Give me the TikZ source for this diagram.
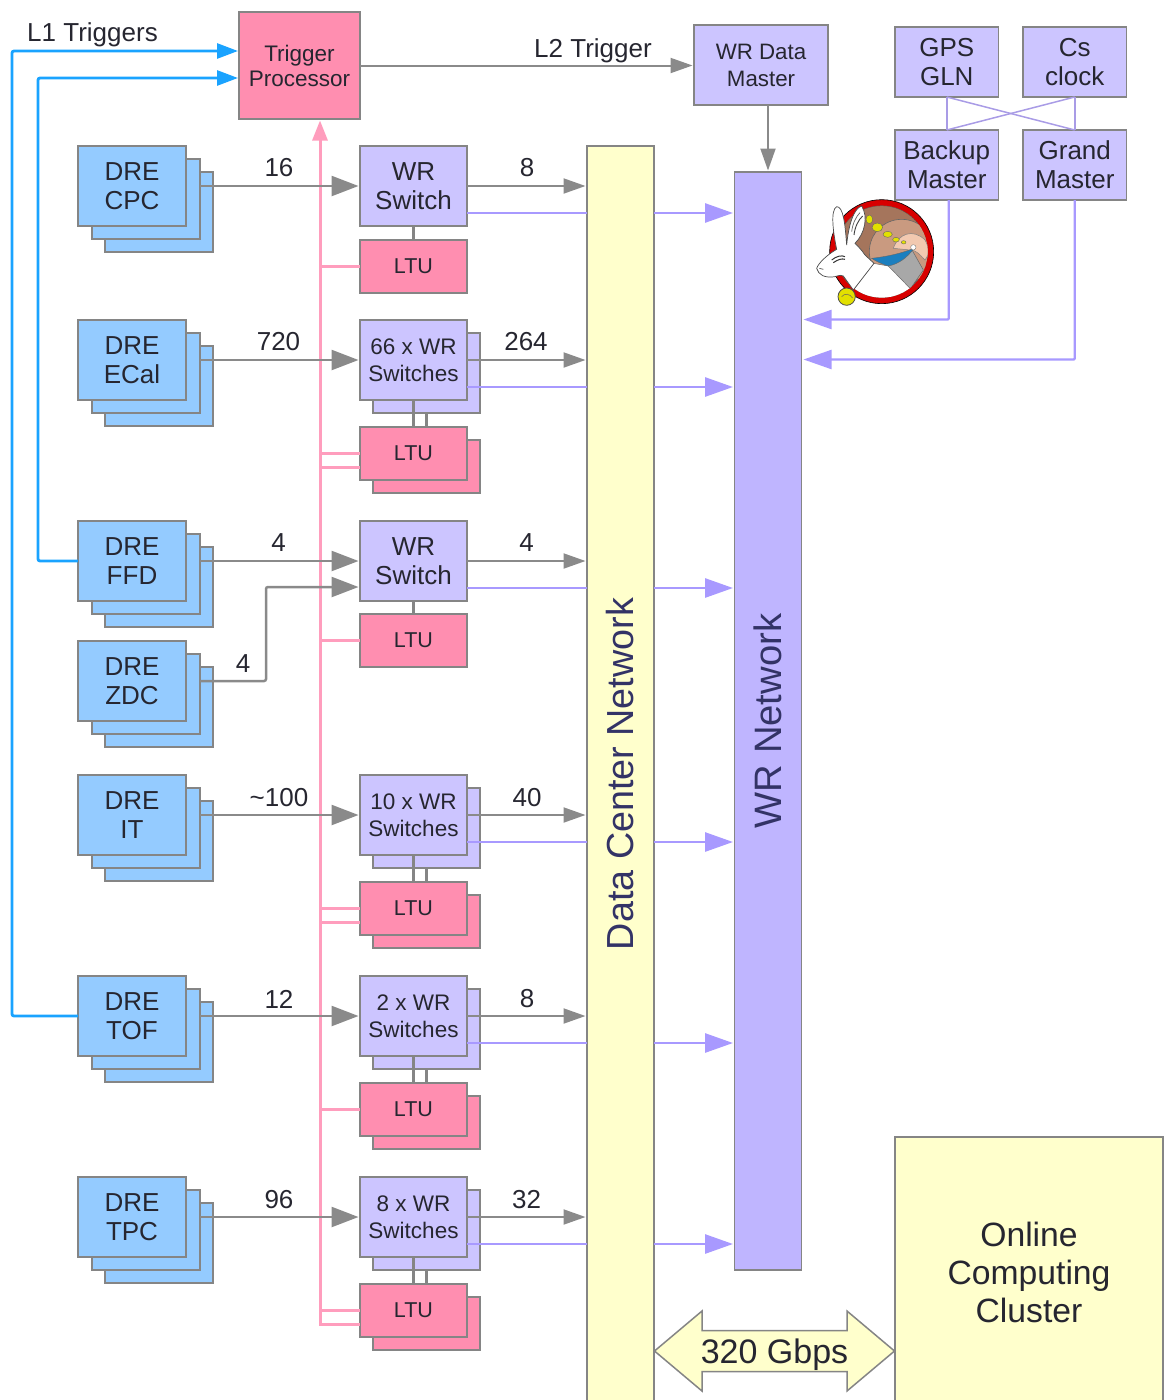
\documentclass[tikz,border=0pt]{standalone}
\usepackage{fontspec}
\usepackage{graphicx}
\setmainfont{Liberation Sans}
\usetikzlibrary{arrows.meta}
\definecolor{edgegray}{HTML}{858585}
\definecolor{linegray}{HTML}{8A8A8A}
\definecolor{drefill}{HTML}{94CBFF}
\definecolor{wrfill}{HTML}{CCC5FF}
\definecolor{wrnet}{HTML}{BFB5FF}
\definecolor{ltufill}{HTML}{FF8EB0}
\definecolor{yellowfill}{HTML}{FFFFCC}
\definecolor{wrline}{HTML}{A899FF}
\definecolor{thinwr}{HTML}{A99CE6}
\definecolor{pinkline}{HTML}{FF9DBD}
\definecolor{blueline}{HTML}{1AA3FF}
\definecolor{txt}{HTML}{262630}
\definecolor{dctxt}{HTML}{333366}
\definecolor{rbrown}{HTML}{A5755C}
\definecolor{rtan}{HTML}{C99A80}
\definecolor{rpeach}{HTML}{F2C9B0}
\definecolor{rgray}{HTML}{A8A8A8}
\definecolor{rblue}{HTML}{1B7FBF}
\definecolor{rred}{HTML}{D80000}
\definecolor{rgold}{HTML}{E2E000}
\tikzset{
  base/.style={draw=edgegray,line width=1.5pt,anchor=north west,inner sep=0pt,outer sep=0pt,align=center,text=txt},
  big/.style={font=\fontsize{26}{29}\selectfont},
  mid/.style={font=\fontsize{22.5}{27}\selectfont},
  drebox/.style={base,big,fill=drefill,minimum width=108pt,minimum height=80pt},
  swbox/.style={base,fill=wrfill,minimum width=107pt,minimum height=80pt},
  ltubox/.style={base,fill=ltufill,font=\fontsize{21.5}{26}\selectfont,minimum width=107pt,minimum height=53pt},
  clockbox/.style={base,big,fill=wrfill,minimum width=103.5pt,minimum height=70pt},
  lab/.style={text=txt,font=\fontsize{26}{29}\selectfont,inner sep=0pt},
  grayfat/.style={draw=linegray,line width=2.5pt,-{Triangle[length=27pt,width=20pt]},shorten >=1.5pt},
  graythin/.style={draw=linegray,line width=2pt,-{Triangle[length=22pt,width=15pt]},shorten >=1.5pt},
  wrplain/.style={draw=wrline,line width=2.6pt},
  wrarrow/.style={draw=wrline,line width=2.8pt,-{Triangle[length=28pt,width=19pt]},shorten >=1.5pt},
  pinkl/.style={draw=pinkline,line width=3pt},
  bluel/.style={draw=blueline,line width=2.8pt,rounded corners=2pt,-{Triangle[length=21pt,width=15pt]},shorten >=1pt},
  linkl/.style={draw=edgegray,line width=2.2pt},
  crossl/.style={draw=thinwr,line width=1.5pt}
}
% name, top y, text
\newcommand{\drestack}[3]{%
  \node[drebox] (#1c) at (105,#2+26) {};
  \node[drebox] (#1b) at (92,#2+13) {};
  \node[drebox] (#1) at (78,#2) {#3};
}
\newcommand{\swstack}[3]{%
  \node[swbox] (#1b) at (373,#2+13) {};
  \node[swbox,mid] (#1) at (360,#2) {#3};
}
\newcommand{\ltustack}[2]{%
  \node[ltubox] (#1b) at (373,#2+13) {};
  \node[ltubox] (#1) at (360,#2) {LTU};
}
% source switch: gray and purple runs to the two networks
\newcommand{\outlinks}[1]{%
  \draw[graythin] (#1.east) -- (#1.east -| dc.west);
  \draw[wrplain] ([yshift=-27pt]#1.east) -- ([yshift=-27pt]#1.east -| dc.west);
  \draw[wrarrow] ([yshift=-27pt]#1.east -| dc.east) -- ([yshift=-27pt]#1.east -| wr.west);
}
\begin{document}
\begin{tikzpicture}[x=1pt,y=-1pt]
\useasboundingbox (0,0) rectangle (1165,1400);
\clip (0,0) rectangle (1165,1400);

% main blocks
\node[base,fill=ltufill,font=\fontsize{22.5}{25}\selectfont,minimum width=121pt,minimum height=107pt,text=txt] (tp) at (239,12) {Trigger\\Processor};
\node[base,fill=wrfill,font=\fontsize{22.3}{27}\selectfont,minimum width=134pt,minimum height=80pt] (wrdm) at (694,25) {WR Data\\Master};
\node[clockbox] (gps) at (895,27) {GPS\\GLN};
\node[clockbox] (cs) at (1023,27) {Cs\\clock};
\node[clockbox] (bm) at (895,130) {Backup\\Master};
\node[clockbox] (gm) at (1023,130) {Grand\\Master};
\node[base,fill=yellowfill,minimum width=67pt,minimum height=1256pt,text=dctxt] (dc) at (587,146) {\rotatebox{90}{\fontsize{37.7}{40}\selectfont Data Center Network}};
\node[base,fill=wrnet,minimum width=67pt,minimum height=1098pt,text=dctxt] (wr) at (734.5,172) {\rotatebox{90}{\fontsize{38.2}{40}\selectfont WR Network}};
\node[base,fill=yellowfill,font=\fontsize{33.7}{38}\selectfont,minimum width=268pt,minimum height=270pt] (occ) at (895,1137) {Online\\Computing\\Cluster};

% detector stacks
\drestack{dcpc}{146}{DRE\\CPC}
\drestack{decal}{320}{DRE\\ECal}
\drestack{dffd}{521}{DRE\\FFD}
\drestack{dzdc}{641}{DRE\\ZDC}
\drestack{dit}{775}{DRE\\IT}
\drestack{dtof}{976}{DRE\\TOF}
\drestack{dtpc}{1177}{DRE\\TPC}

% switches and LTUs
\node[swbox,big] (swcpc) at (360,146) {WR\\Switch};
\node[ltubox] (lcpc) at (360,240) {LTU};
\swstack{swecal}{320}{66 x WR\\Switches}
\ltustack{lecal}{427}
\node[swbox,big] (swffd) at (360,521) {WR\\Switch};
\node[ltubox] (lffd) at (360,614) {LTU};
\swstack{swit}{775}{10 x WR\\Switches}
\ltustack{lit}{882}
\swstack{swtof}{976}{2 x WR\\Switches}
\ltustack{ltof}{1083}
\swstack{swtpc}{1177}{8 x WR\\Switches}
\ltustack{ltpc}{1284}

% LTU bus
\coordinate (tpin) at (320,119.5);
\draw[pinkl,-{Triangle[length=20pt,width=15pt]},shorten >=1pt] ([yshift=-14pt]ltpc.west) -| (tpin);
\foreach \l in {lcpc,lecal,lffd,lit,ltof,ltpc}{
  \draw[pinkl] (\l.west) -- (\l.west -| tpin);
}
\foreach \l in {lecal,lit}{
  \draw[pinkl] ([yshift=-14pt]\l.west) -- ([yshift=-14pt]\l.west -| tpin);
}

% switch to LTU links
\draw[linkl] (swcpc.south) -- (lcpc.north);
\draw[linkl] (swffd.south) -- (lffd.north);
\foreach \s/\l in {swecal/lecal,swit/lit,swtof/ltof,swtpc/ltpc}{
  \draw[linkl] (\s.south) -- (\l.north);
  \draw[linkl] (\s b.south) -- (\s b.south |- \l.north);
}

% DRE to switch
\foreach \d/\s in {dcpc/swcpc,decal/swecal,dffd/swffd,dit/swit,dtof/swtof,dtpc/swtpc}{
  \draw[grayfat] (\d b.east |- \s.west) -- (\s.west);
}
\coordinate (zdcbend) at (266,681);
\draw[grayfat,rounded corners=2pt] (dzdcb.east |- zdcbend) -- (zdcbend) |- ([yshift=-26pt]swffd.west);

% switch to networks
\foreach \s in {swcpc,swecal,swffd,swit,swtof,swtpc}{
  \outlinks{\s}
}

% triggers
\coordinate (l1a) at (12,51);
\coordinate (l1b) at (38,78);
\draw[bluel] (dtof.west) -| (l1a) -- (l1a -| tp.west);
\draw[bluel] (dffd.west) -| (l1b) -- (l1b -| tp.west);
\draw[graythin] (tp.east) -- (tp.east -| wrdm.west);
\draw[graythin] (wr.north |- wrdm.south) -- (wr.north);

% timing
\draw[crossl] (gps.south) -- (bm.north);
\draw[crossl] (cs.south) -- (gm.north);
\draw[crossl] (gps.south) -- (gm.north);
\draw[crossl] (cs.south) -- (bm.north);
\coordinate (bmt) at (802,319.5);
\coordinate (gmt) at (802,359.5);
\draw[wrarrow,line width=2.2pt,rounded corners=1pt] ([xshift=2pt]bm.south) |- (bmt);
\draw[wrarrow,line width=2.2pt,rounded corners=1pt] (gm.south) |- (gmt);

% link to the computing cluster
\draw[draw=edgegray,line width=1.5pt,fill=yellowfill,line join=miter]
  (654.5,1351) -- (702,1311) -- (702,1330.5) -- (847,1330.5) -- (847,1311) -- (894.5,1351)
  -- (847,1391) -- (847,1371.5) -- (702,1371.5) -- (702,1391) -- cycle;
\node[lab,font=\fontsize{34}{38}\selectfont] (gbps) at (774.5,1355) {320 Gbps};

% labels
\node[lab] (l1t) at (92.5,35) {L1 Triggers};
\node[lab] (l2t) at (593,51) {L2 Trigger};
\node[lab] (n1) at (279,168) {16};
\node[lab] (n2) at (527,168) {8};
\node[lab] (n3) at (278.5,342) {720};
\node[lab] (n4) at (526,342) {264};
\node[lab] (n5) at (278.5,543) {4};
\node[lab] (n6) at (526.5,543) {4};
\node[lab] (n7) at (243,664) {4};
\node[lab] (n8) at (279,798) {\textasciitilde100};
\node[lab] (n9) at (527,798) {40};
\node[lab] (n10) at (279,999) {12};
\node[lab] (n11) at (527,999) {8};
\node[lab] (n12) at (279,1200) {96};
\node[lab] (n13) at (526.5,1200) {32};

% rabbit emblem
\begin{scope}[shift={(810,190)},x=0.3333pt,y=-0.3333pt]
  \fill[draw=black,line width=.6pt,fill=rred] (215,185) circle (156);
  \begin{scope}
    \clip (215,185) circle (138);
    \fill[draw=black!70,line width=.5pt,fill=rbrown] (215,185) circle (138);
    \fill[fill=rtan,draw=black!60,line width=.6pt] (275,185) circle (97);
    \fill[fill=rpeach,draw=black!50,line width=.5pt]
      (250,175) .. controls (265,130) and (310,115) .. (345,150)
      .. controls (360,175) and (355,200) .. (345,210) .. controls (330,195) and (320,180) .. (300,180) -- cycle;
    \fill[fill=rgray,draw=black!60,line width=.5pt] (305,178) -- (340,240) -- (295,305) -- (230,225) -- cycle;
    \fill[fill=white,draw=black!60,line width=.5pt] (190,220) -- (235,228) -- (305,300) -- (250,345) -- (100,345) -- (130,300) -- cycle;
    \fill[fill=rblue,draw=black!60,line width=.4pt] (185,205) .. controls (230,200) and (275,190) .. (312,175) .. controls (290,205) and (265,222) .. (235,228) .. controls (215,222) and (200,215) .. (185,205) -- cycle;
    \fill[white,draw=black!60,line width=.3pt] (310,172) circle (8);
  \end{scope}
  \fill[fill=white,draw=black!70,line width=.7pt]
    (110,165) .. controls (105,100) and (100,50) .. (80,50) .. controls (60,60) and (70,130) .. (80,178)
    .. controls (50,195) and (25,220) .. (20,235) .. controls (25,255) and (45,265) .. (75,260)
    .. controls (90,255) and (95,255) .. (100,258) -- (130,300) -- (192,220) -- (165,195)
    .. controls (155,180) and (145,170) .. (135,160) .. controls (165,130) and (175,80) .. (155,48)
    .. controls (130,55) and (115,110) .. (110,165) -- cycle;
  \draw[black!75,line width=.9pt] (132,135) .. controls (135,110) and (145,90) .. (158,78);
  \draw[black!60,line width=.7pt] (125,125) .. controls (128,100) and (138,80) .. (150,68);
  \draw[black!80,line width=1pt] (65,210) .. controls (80,198) and (95,195) .. (105,200);
  \draw[black!80,line width=1pt] (70,218) .. controls (85,208) and (95,205) .. (105,208);
  \draw[black!70,line width=.7pt] (28,235) -- (40,238);
  \foreach \cx/\cy/\rx/\ry in {178/88/10/13,202/112/16/13,233/133/14/9,258/149/10/7,281/157/7/5}{
    \fill[fill=rgold,draw=black!60,line width=.4pt] (\cx,\cy) ellipse ({\rx} and {\ry});
  }
  \fill[fill=rgold,draw=black!70,line width=.8pt] (110,320) circle (26);
  \draw[yellow!45!black,line width=.7pt] (95,320) .. controls (105,308) and (120,312) .. (128,324);
\end{scope}
\end{tikzpicture}
\end{document}
